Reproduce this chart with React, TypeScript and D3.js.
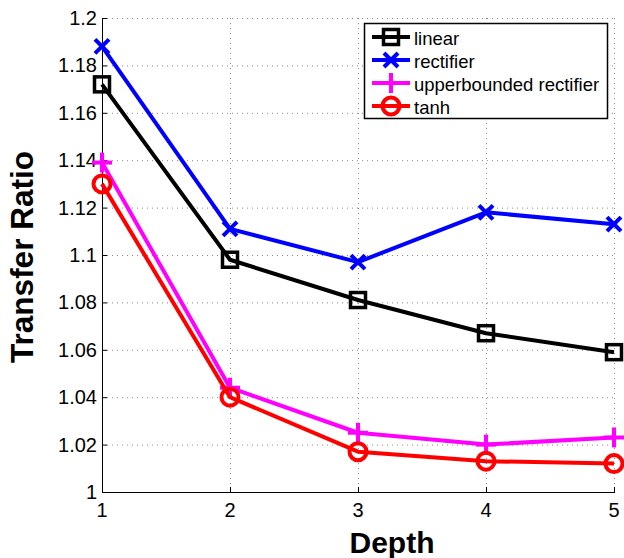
import React from "react";
import * as d3 from "d3";

const depths = [1, 2, 3, 4, 5];
const linearVals = [1.172, 1.098, 1.081, 1.067, 1.059];
const rectifierVals = [1.188, 1.111, 1.097, 1.118, 1.113];
const upperVals = [1.139, 1.044, 1.025, 1.02, 1.023];
const tanhVals = [1.13, 1.04, 1.017, 1.013, 1.012];
const seriesNames = ["linear", "rectifier", "upperbounded rectifier", "tanh"];
const seriesColors = ["#000000", "#0000ff", "#ff00ff", "#ff0000"];
const seriesMarkers = ["square", "x", "plus", "circle"];
const yTicks = [1, 1.02, 1.04, 1.06, 1.08, 1.1, 1.12, 1.14, 1.16, 1.18, 1.2];
const yTickLabels = ["1", "1.02", "1.04", "1.06", "1.08", "1.1", "1.12", "1.14", "1.16", "1.18", "1.2"];
const xTicks = [1, 2, 3, 4, 5];

const W = 624, H = 558;
const M = { left: 102, right: 614, top: 18, bottom: 492 };

function Marker({ type, x, y, color }: { type: string; x: number; y: number; color: string }) {
  if (type === "square") {
    return <rect x={x - 7.5} y={y - 7.5} width={15} height={15} fill="none" stroke={color} strokeWidth={3.5} />;
  }
  if (type === "x") {
    const s = 7;
    return (
      <g stroke={color} strokeWidth={4}>
        <line x1={x - s} y1={y - s} x2={x + s} y2={y + s} />
        <line x1={x - s} y1={y + s} x2={x + s} y2={y - s} />
      </g>
    );
  }
  if (type === "plus") {
    const s = 10;
    return (
      <g stroke={color} strokeWidth={4}>
        <line x1={x - s} y1={y} x2={x + s} y2={y} />
        <line x1={x} y1={y - s} x2={x} y2={y + s} />
      </g>
    );
  }
  return <circle cx={x} cy={y} r={8.5} fill="none" stroke={color} strokeWidth={4} />;
}

export default function App() {
  const x = d3.scaleLinear().domain([1, 5]).range([M.left, M.right]);
  const y = d3.scaleLinear().domain([1, 1.2]).range([M.bottom, M.top]);
  const data = [linearVals, rectifierVals, upperVals, tanhVals];
  const line = d3.line<number>().x((_, i) => x(depths[i])).y((d) => y(d));
  const font = "'Liberation Sans', Arial, Helvetica, sans-serif";

  const legX = 364, legY = 23, legW = 243, legH = 95, rowH = 23;

  return (
    <svg width={W} height={H} style={{ position: "absolute", left: 0, top: 0, background: "#fff" }} fontFamily={font}>
      <rect x={0} y={0} width={W} height={H} fill="#fff" />
      {/* grid */}
      <g stroke="#888" strokeWidth={1} strokeDasharray="1,4">
        {yTicks.map((t) => (
          <line key={"gy" + t} x1={M.left} x2={M.right} y1={y(t) + 0.5} y2={y(t) + 0.5} />
        ))}
        {xTicks.map((t) => (
          <line key={"gx" + t} x1={x(t) + 0.5} x2={x(t) + 0.5} y1={M.top} y2={M.bottom} />
        ))}
      </g>
      {/* axes */}
      <g stroke="#000" strokeWidth={1}>
        <line x1={M.left + 0.5} x2={M.left + 0.5} y1={M.top} y2={M.bottom + 0.5} />
        <line x1={M.left} x2={M.right + 1} y1={M.bottom + 0.5} y2={M.bottom + 0.5} />
        {yTicks.map((t) => (
          <line key={"ty" + t} x1={M.left} x2={M.left + 5} y1={y(t) + 0.5} y2={y(t) + 0.5} />
        ))}
        {xTicks.map((t) => (
          <line key={"tx" + t} x1={x(t) + 0.5} x2={x(t) + 0.5} y1={M.bottom} y2={M.bottom - 5} />
        ))}
      </g>
      {/* tick labels */}
      <g fontSize={20} fill="#000">
        {yTicks.map((t, i) => (
          <text key={"ly" + t} x={M.left - 5} y={y(t)} textAnchor="end" dominantBaseline="central">
            {yTickLabels[i]}
          </text>
        ))}
        {xTicks.map((t) => (
          <text key={"lx" + t} x={x(t)} y={M.bottom + 18} textAnchor="middle" dominantBaseline="central">
            {String(t)}
          </text>
        ))}
      </g>
      {/* axis titles */}
      <text x={392} y={553} textAnchor="middle" fontSize={30} fontWeight="bold">Depth</text>
      <text transform={`translate(33,257) rotate(-90)`} textAnchor="middle" fontSize={31.5} fontWeight="bold">
        Transfer Ratio
      </text>
      {/* series */}
      {data.map((vals, si) => (
        <g key={"s" + si}>
          <path d={line(vals) || ""} fill="none" stroke={seriesColors[si]} strokeWidth={4} strokeLinejoin="round" />
          {vals.map((v, i) => (
            <Marker key={i} type={seriesMarkers[si]} x={x(depths[i])} y={y(v)} color={seriesColors[si]} />
          ))}
        </g>
      ))}
      {/* legend */}
      <rect x={legX + 0.5} y={legY + 0.5} width={legW} height={legH} fill="#fff" stroke="#000" strokeWidth={1.5} />
      {seriesNames.map((n, i) => {
        const cy = legY + 14 + i * rowH;
        return (
          <g key={"leg" + i}>
            <line x1={legX + 8} x2={legX + 46} y1={cy} y2={cy} stroke={seriesColors[i]} strokeWidth={4} />
            <Marker type={seriesMarkers[i]} x={legX + 27} y={cy} color={seriesColors[i]} />
            <text x={legX + 50} y={cy + 1} fontSize={18.5} dominantBaseline="central">{n}</text>
          </g>
        );
      })}
    </svg>
  );
}
